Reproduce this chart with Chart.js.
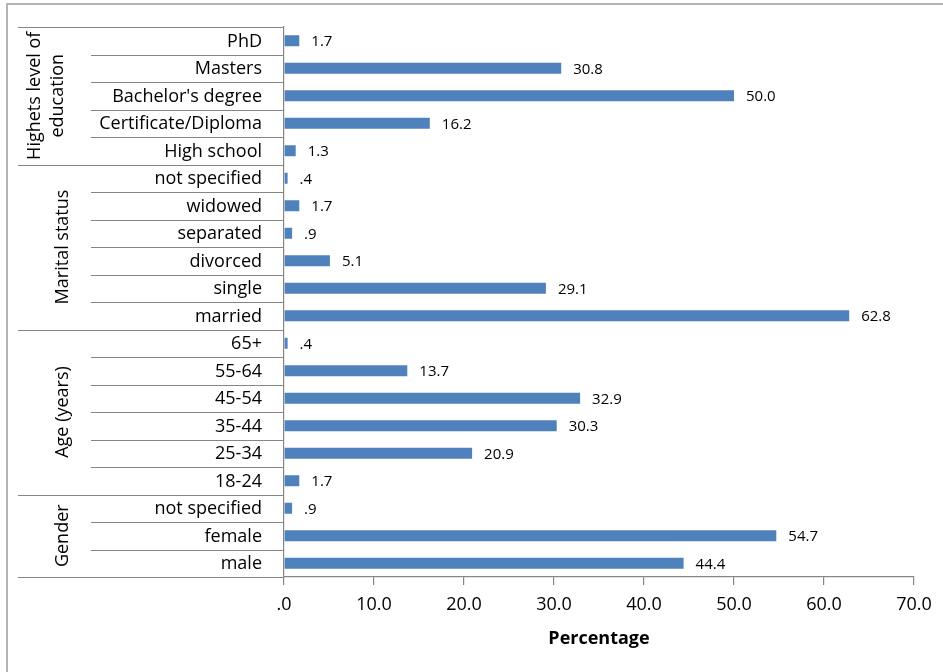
<!DOCTYPE html>
<html>
<head>
<meta charset="utf-8">
<script src="https://cdn.jsdelivr.net/npm/chart.js@4/dist/chart.umd.min.js"></script>
<style>
  html, body { margin: 0; padding: 0; background: #ffffff; }
  canvas { display: block; }
</style>
</head>
<body>
<canvas id="chart" width="943" height="672"></canvas>
<script>
// Respondent profile, percentage of respondents per category
const categories = [
  'PhD', 'Masters', "Bachelor's degree", 'Certificate/Diploma', 'High school',
  'not specified', 'widowed', 'separated', 'divorced', 'single', 'married',
  '65+', '55-64', '45-54', '35-44', '25-34', '18-24',
  'not specified', 'female', 'male'
];
const percentages = [
  1.7, 30.8, 50.0, 16.2, 1.3,
  0.4, 1.7, 0.9, 5.1, 29.1, 62.8,
  0.4, 13.7, 32.9, 30.3, 20.9, 1.7,
  0.9, 54.7, 44.4
];
// Groups in top-to-bottom order, with the number of categories in each
const groupTitles = [['Highets level of', 'education'], ['Marital status'], ['Age (years)'], ['Gender']];
const groupSizes = [5, 6, 6, 3];
const xTickLabels = ['.0', '10.0', '20.0', '30.0', '40.0', '50.0', '60.0', '70.0'];
const xAxisTitle = 'Percentage';

const FONT = "'Open Sans', 'Noto Sans', sans-serif";
const LINE = '#868686';
const BAR = '#4f81bd';

function fmt(v) {
  const s = v.toFixed(1);
  return s.startsWith('0.') ? s.slice(1) : s;
}

const tablePlugin = {
  id: 'labelTable',
  beforeDraw(chart) {
    const ctx = chart.ctx;
    // outer frame
    ctx.save();
    ctx.strokeStyle = '#b4b4b4';
    ctx.lineWidth = 2;
    ctx.strokeRect(7, 4, chart.width + 20, chart.height + 20);
    ctx.restore();
  },
  afterDraw(chart) {
    const ctx = chart.ctx;
    const y = chart.scales.y;
    const area = chart.chartArea;
    const n = categories.length;
    const step = (y.getPixelForValue(n - 1) - y.getPixelForValue(0)) / (n - 1);
    const rowTop = i => y.getPixelForValue(i) - step / 2;

    ctx.save();
    ctx.strokeStyle = LINE;
    ctx.lineWidth = 1.2;
    // group borders and inner separators
    const groupEdges = new Set([0]);
    let acc = 0;
    groupSizes.forEach(s => { acc += s; groupEdges.add(acc); });
    for (let i = 0; i <= n; i++) {
      const py = Math.round(rowTop(i)) + 0.5;
      const x0 = groupEdges.has(i) ? 18 : 91;
      ctx.beginPath();
      ctx.moveTo(x0, py);
      ctx.lineTo(area.left, py);
      ctx.stroke();
    }

    // category labels
    ctx.fillStyle = '#000';
    ctx.font = `18px ${FONT}`;
    ctx.textAlign = 'right';
    ctx.textBaseline = 'middle';
    categories.forEach((c, i) => ctx.fillText(c, 262, y.getPixelForValue(i) + 1));

    // rotated group titles
    let start = 0;
    groupTitles.forEach((lines, g) => {
      const cy = (rowTop(start) + rowTop(start + groupSizes[g])) / 2;
      const baselines = lines.length === 2 ? [40, 63] : [68];
      lines.forEach((t, k) => {
        ctx.save();
        ctx.translate(baselines[k], cy);
        ctx.rotate(-Math.PI / 2);
        ctx.textAlign = 'center';
        ctx.textBaseline = 'alphabetic';
        ctx.fillText(t, 0, 0);
        ctx.restore();
      });
      start += groupSizes[g];
    });

    // value labels at bar ends
    const meta = chart.getDatasetMeta(0);
    ctx.font = `15px ${FONT}`;
    ctx.textAlign = 'left';
    ctx.textBaseline = 'middle';
    meta.data.forEach((bar, i) => {
      ctx.fillText(fmt(percentages[i]), bar.x + 12, bar.y + 1);
    });
    ctx.restore();
  }
};

new Chart(document.getElementById('chart'), {
  type: 'bar',
  data: {
    labels: categories,
    datasets: [{
      data: percentages,
      backgroundColor: BAR,
      borderWidth: 0,
      barPercentage: 0.4,
      categoryPercentage: 1.0
    }]
  },
  options: {
    indexAxis: 'y',
    responsive: false,
    animation: false,
    layout: { padding: { left: 0, top: 27, right: 29, bottom: 0 } },
    plugins: { legend: { display: false }, tooltip: { enabled: false } },
    scales: {
      y: {
        ticks: { display: false },
        grid: { display: false },
        border: { display: true, color: LINE, width: 1.2 },
        afterFit: s => { s.width = 284; }
      },
      x: {
        min: 0,
        max: 70,
        ticks: {
          stepSize: 10,
          color: '#000',
          font: { family: FONT, size: 18 },
          padding: 9,
          maxRotation: 0,
          callback: (v, i) => xTickLabels[i]
        },
        grid: { drawOnChartArea: false, drawTicks: true, tickLength: 8, color: LINE, lineWidth: 1.2 },
        border: { display: true, color: LINE, width: 1.2 },
        title: {
          display: true,
          text: xAxisTitle,
          color: '#000',
          font: { family: FONT, size: 18, weight: 'bold' },
          padding: { top: 0, bottom: 22 }
        },
        afterFit: s => { s.height = 95; }
      }
    }
  },
  plugins: [tablePlugin]
});
</script>
</body>
</html>
